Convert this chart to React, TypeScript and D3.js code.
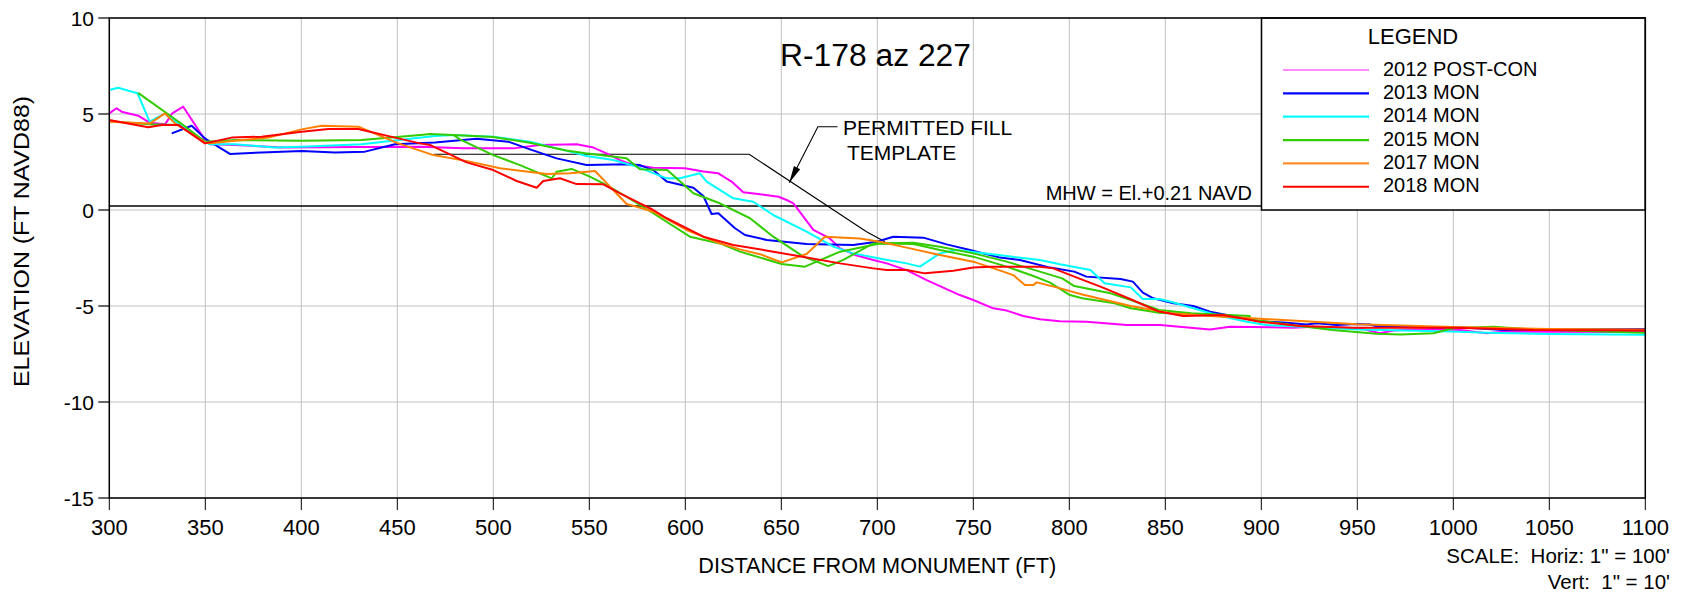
import React from "react";
import * as d3 from "d3";

type Pt = [number, number];

const TITLE = "R-178 az 227";
const X_TICKS = [300, 350, 400, 450, 500, 550, 600, 650, 700, 750, 800, 850, 900, 950, 1000, 1050, 1100];
const Y_TICKS = [10, 5, 0, -5, -10, -15];
const MHW = 0.21;

const MAGENTA_2012: Pt[] = [[300,5.03],[303.8,5.3],[306.4,5.12],[315,4.91],[321,4.55],[329,4.46],[332.8,5.03],[338.5,5.38],[349.8,3.65],[352.4,3.42],[365.5,3.39],[389.8,3.26],[430,3.28],[462,3.3],[484.4,3.21],[510.4,3.21],[524.3,3.39],[543.4,3.42],[552.1,3.25],[559,2.95],[566,2.6],[573,2.34],[583.3,2.2],[599.8,2.17],[609.4,2.0],[617.2,1.91],[624.1,1.48],[630.2,0.92],[638.9,0.82],[648.6,0.69],[652.8,0.52],[656.3,0.35],[666.7,-1.04],[675.3,-1.48],[680.6,-2.0],[688.4,-2.34],[697.9,-2.6],[704.9,-2.78],[715.3,-3.13],[725.7,-3.65],[743,-4.43],[750,-4.69],[760.4,-5.12],[767.4,-5.24],[776,-5.52],[784.7,-5.69],[795,-5.8],[809,-5.82],[829.9,-5.99],[847.2,-5.99],[873.3,-6.22],[883.7,-6.08],[916.7,-6.13],[927.1,-6.08],[951.4,-6.16],[961.8,-6.42],[968.8,-6.28],[979.2,-6.22],[994.8,-6.22],[1003.5,-6.25],[1017.4,-6.42],[1026,-6.34],[1050,-6.34],[1100,-6.35]];

const BLUE_2013: Pt[] = [[332.5,3.99],[342.9,4.39],[349.8,3.73],[352.4,3.56],[362.8,2.92],[379.3,3.0],[400.2,3.07],[417.5,3.0],[433.2,3.04],[448.8,3.42],[469.6,3.52],[491.3,3.71],[507.8,3.56],[519.1,3.16],[533,2.69],[548.6,2.34],[569.4,2.38],[576.4,2.34],[583.3,2.08],[590.3,1.48],[604.2,1.16],[609.4,0.73],[613.7,-0.21],[617.2,-0.17],[625.9,-0.95],[631.1,-1.3],[642.4,-1.56],[663.2,-1.77],[687.5,-1.82],[699.7,-1.65],[708.3,-1.39],[724,-1.44],[736.1,-1.79],[748.3,-2.08],[763.9,-2.48],[774.3,-2.6],[790,-3.0],[802.6,-3.21],[808.9,-3.47],[826.7,-3.59],[833.1,-3.73],[838.3,-4.3],[843.8,-4.6],[854.2,-4.86],[864.6,-5.0],[873.3,-5.3],[881.9,-5.47],[899.3,-5.8],[913.2,-5.87],[923.6,-5.96],[928.8,-5.9],[939.2,-5.99],[949.7,-5.94],[956.6,-5.96],[960.1,-6.06],[972.2,-6.04],[989.7,-6.13],[1003.5,-6.11],[1026,-6.25],[1050,-6.22],[1100,-6.2]];

const CYAN_2014: Pt[] = [[300,6.25],[304.6,6.37],[314.7,6.08],[321,4.6],[329,5.03],[338.5,4.31],[349.8,3.56],[352.4,3.42],[365.5,3.42],[386.3,3.26],[400.2,3.3],[431.4,3.42],[469.6,3.85],[479.2,3.91],[500,3.82],[519.1,3.56],[539.9,3.04],[548.6,2.81],[562.5,2.6],[574.7,2.26],[590.3,1.65],[597.2,1.65],[607.6,1.91],[611.1,1.48],[625,0.61],[635.4,0.43],[645.8,-0.26],[663.2,-1.13],[677.1,-1.91],[687.5,-2.26],[703.1,-2.57],[715.3,-2.78],[722.2,-2.95],[732.6,-2.26],[741.3,-2.08],[767.4,-2.4],[784.7,-2.6],[795.1,-2.83],[811,-3.13],[818.4,-3.82],[832,-4.03],[838.3,-4.64],[846.7,-4.64],[852.4,-4.77],[864.6,-5.12],[876.7,-5.47],[892.4,-5.82],[902.8,-5.99],[951.4,-6.22],[1003.5,-6.34],[1017.4,-6.39],[1050,-6.46],[1100,-6.5]];

const GREEN_2015_A: Pt[] = [[315,6.1],[338.5,4.43],[349.8,3.56],[365.5,3.65],[400.2,3.61],[431.4,3.65],[462,3.91],[467,3.96],[479.2,3.91],[500,3.8],[519,3.5],[538,3.1],[548,2.95],[569.4,2.69],[576.4,2.12],[590.6,2.08],[604.2,0.87],[618,0.35],[633.7,-0.43],[645.8,-1.39],[661.5,-2.43],[674.5,-2.92],[682.3,-2.6],[697.9,-1.74],[718.8,-1.7],[732.6,-1.91],[750,-2.26],[767.4,-2.69],[784.7,-3.21],[796.3,-3.56],[802.6,-3.96],[821.5,-4.34],[832,-4.69],[846.7,-5.21],[863.5,-5.38],[894,-5.52],[894,-5.69],[916,-5.99],[937,-6.25],[960,-6.45],[972.8,-6.48],[989.6,-6.42],[1000,-6.16],[1021,-6.08],[1042,-6.22],[1100,-6.39]];
const GREEN_2015_B: Pt[] = [[479.2,3.91],[482.6,3.68],[500,2.86],[513.9,2.34],[530.4,1.65],[533,1.99],[540.8,2.14],[550.3,1.74],[559,1.3],[569.4,0.69],[583.3,-0.17],[602.4,-1.39],[618,-1.74],[628.5,-2.17],[650.2,-2.81],[662.3,-2.95],[668.4,-2.69],[680.6,-2.17],[701.4,-1.74],[718.8,-1.77],[732.6,-2.08],[750,-2.43],[767.4,-2.95],[781.3,-3.44],[790,-3.78],[800.3,-4.43],[806.8,-4.6],[823.6,-4.86],[832,-5.12],[846.7,-5.35],[869.8,-5.47],[892.9,-5.64]];
const GREEN_2015_C: Pt[] = [[300,4.62],[321,4.47],[337,4.43]];

const ORANGE_2017: Pt[] = [[300,4.6],[321.2,4.51],[329,5.03],[334.2,4.51],[349.8,3.52],[352.4,3.47],[365.5,3.61],[382.8,3.77],[400.2,4.2],[410.6,4.39],[429.7,4.34],[450.5,3.47],[468.8,2.86],[487.8,2.52],[503.5,2.17],[527.8,1.88],[540,1.91],[553,2.03],[560.8,1.22],[569.4,0.31],[574.7,0.17],[583.3,-0.09],[600.7,-1.04],[618,-1.74],[628.5,-2.05],[638.9,-2.3],[650.2,-2.73],[663.2,-2.29],[672.7,-1.39],[690.9,-1.48],[701.4,-1.65],[715.3,-1.96],[732.6,-2.34],[750,-2.69],[765.6,-3.21],[770.8,-3.39],[776.9,-3.91],[781.3,-3.91],[783,-3.77],[793.4,-4.03],[806.8,-4.4],[832,-5.0],[853,-5.38],[874,-5.52],[895,-5.64],[950,-5.95],[1000,-6.1],[1050,-6.2],[1100,-6.22]];

const RED_2018: Pt[] = [[300,4.69],[320.3,4.31],[327.3,4.43],[335.9,4.43],[349.8,3.47],[363.7,3.77],[379.3,3.82],[400.2,4.08],[414.1,4.22],[429.7,4.22],[448.8,3.77],[461.8,3.47],[467,3.39],[486.1,2.48],[500,2.08],[512.2,1.51],[522.6,1.16],[526,1.51],[534.7,1.65],[543.4,1.35],[557.3,1.34],[566,0.87],[583.3,0],[590.3,-0.43],[609.4,-1.39],[625,-1.82],[645.8,-2.17],[663.2,-2.47],[680.6,-2.78],[697.9,-3.04],[704.9,-3.13],[715.3,-3.13],[724.8,-3.3],[739.6,-3.16],[750,-3.0],[758.7,-2.95],[784.7,-2.95],[791.7,-3.04],[802.6,-3.47],[817.2,-4.03],[832,-4.65],[846.7,-5.29],[859.3,-5.52],[880.3,-5.47],[899.2,-5.82],[920.2,-6.04],[947.5,-6.13],[1000,-6.13],[1042,-6.25],[1100,-6.28]];

const TEMPLATE: Pt[] = [[469,2.9],[633.3,2.9],[694.4,-1.13],[704,-1.65]];

const SERIES = [
  { name: "2012 POST-CON", color: "#ff00ff", legendColor: "#ff66ff", legendWidth: 1.5, parts: [MAGENTA_2012] },
  { name: "2013 MON", color: "#0000ff", legendColor: "#0000ff", legendWidth: 2.2, parts: [BLUE_2013] },
  { name: "2014 MON", color: "#00ffff", legendColor: "#00ffff", legendWidth: 2.2, parts: [CYAN_2014] },
  { name: "2015 MON", color: "#33cc00", legendColor: "#33cc00", legendWidth: 2.2, parts: [GREEN_2015_C, GREEN_2015_A, GREEN_2015_B] },
  { name: "2017 MON", color: "#ff8000", legendColor: "#ff8c2a", legendWidth: 2.2, parts: [ORANGE_2017] },
  { name: "2018 MON", color: "#ff0000", legendColor: "#ff0000", legendWidth: 2.2, parts: [RED_2018] },
];

const W = 1683;
const H = 592;
const PL = 109.3, PR = 1645.3, PT = 18, PB = 498;
const FONT = "'Liberation Sans', Arial, Helvetica, sans-serif";

export default function App() {
  const x = d3.scaleLinear().domain([300, 1100]).range([PL, PR]);
  const y = d3.scaleLinear().domain([-15, 10]).range([PB, PT]);
  const line = d3.line<Pt>().x((d) => x(d[0])).y((d) => y(d[1]));

  const legX = 1261.5;
  const legTop = PT;
  const legBottom = y(0);

  const tip: Pt = [789.3, 182.7];
  const elbow: Pt = [817.9, 126.7];
  const ang = Math.atan2(tip[1] - elbow[1], tip[0] - elbow[0]);
  const aLen = 17, aHalf = 3.5;
  const bx = tip[0] - aLen * Math.cos(ang), by = tip[1] - aLen * Math.sin(ang);
  const px = -Math.sin(ang) * aHalf, py = Math.cos(ang) * aHalf;
  const arrow = `M${tip[0]},${tip[1]} L${bx + px},${by + py} L${bx - px},${by - py} Z`;

  return (
    <div style={{ position: "absolute", left: 0, top: 0 }}>
      <svg width={W} height={H} viewBox={`0 0 ${W} ${H}`} style={{ display: "block", background: "#fff" }} fontFamily={FONT}>
        <rect x={0} y={0} width={W} height={H} fill="#fff" />
        {X_TICKS.map((t) => (
          <line key={"gx" + t} x1={x(t)} x2={x(t)} y1={PT} y2={PB} stroke="#c0c0c0" strokeWidth={1} />
        ))}
        {Y_TICKS.map((t) => (
          <line key={"gy" + t} x1={PL} x2={PR} y1={y(t)} y2={y(t)} stroke="#c0c0c0" strokeWidth={1} />
        ))}
        <path d={line(TEMPLATE) || ""} fill="none" stroke="#000" strokeWidth={1.1} />
        <line x1={PL} x2={legX} y1={y(MHW)} y2={y(MHW)} stroke="#000" strokeWidth={1.5} />
        {SERIES.map((s) =>
          s.parts.map((p, i) => (
            <path key={s.name + i} d={line(p) || ""} fill="none" stroke={s.color} strokeWidth={2} strokeLinejoin="round" />
          ))
        )}
        <rect x={legX} y={legTop} width={PR - legX} height={legBottom - legTop} fill="#fff" stroke="#000" strokeWidth={1.5} />
        <text x={1413} y={44} fontSize={22} textAnchor="middle" fill="#000">LEGEND</text>
        {SERIES.map((s, i) => {
          const ly = 70 + i * 23.35;
          return (
            <g key={"leg" + s.name}>
              <line x1={1283} x2={1369} y1={ly} y2={ly} stroke={s.legendColor} strokeWidth={s.legendWidth} />
              <text x={1383} y={ly + 5.5} fontSize={20} fill="#000">{s.name}</text>
            </g>
          );
        })}
        <rect x={PL} y={PT} width={PR - PL} height={PB - PT} fill="none" stroke="#000" strokeWidth={1.5} />
        {Y_TICKS.map((t) => (
          <g key={"yt" + t}>
            <line x1={PL - 11} x2={PL} y1={y(t)} y2={y(t)} stroke="#000" strokeWidth={1.2} />
            <text x={94} y={y(t)} dy="0.36em" fontSize={21} textAnchor="end" fill="#000">{t}</text>
          </g>
        ))}
        {X_TICKS.map((t) => (
          <g key={"xt" + t}>
            <line x1={x(t)} x2={x(t)} y1={PB} y2={PB + 12} stroke="#000" strokeWidth={1} />
            <text x={x(t)} y={535} fontSize={22} textAnchor="middle" fill="#000">{t}</text>
          </g>
        ))}
        <text x={875.5} y={66} fontSize={31} textAnchor="middle" textLength={191} lengthAdjust="spacingAndGlyphs" fill="#000">{TITLE}</text>
        <text x={(PL + PR) / 2} y={573} fontSize={22} textAnchor="middle" textLength={358} lengthAdjust="spacingAndGlyphs" fill="#000">DISTANCE FROM MONUMENT (FT)</text>
        <text transform={`translate(29,241.5) rotate(-90)`} fontSize={22} textAnchor="middle" textLength={291} lengthAdjust="spacingAndGlyphs" fill="#000">ELEVATION (FT NAVD88)</text>
        <text x={1252} y={200} fontSize={20} textAnchor="end" fill="#000">MHW = El.+0.21 NAVD</text>
        <path d={`M${tip[0]},${tip[1]} L${elbow[0]},${elbow[1]} L837.5,${elbow[1]}`} fill="none" stroke="#000" strokeWidth={1.1} />
        <path d={arrow} fill="#000" />
        <text x={843} y={135} fontSize={21} fill="#000">PERMITTED FILL</text>
        <text x={847} y={160} fontSize={21} fill="#000">TEMPLATE</text>
        <text x={1670} y={563} fontSize={20.5} textAnchor="end" fill="#000" style={{ whiteSpace: "pre" }}>{"SCALE:  Horiz: 1\" = 100'"}</text>
        <text x={1670} y={589} fontSize={20.5} textAnchor="end" fill="#000" style={{ whiteSpace: "pre" }}>{"Vert:  1\" = 10'"}</text>
      </svg>
    </div>
  );
}
